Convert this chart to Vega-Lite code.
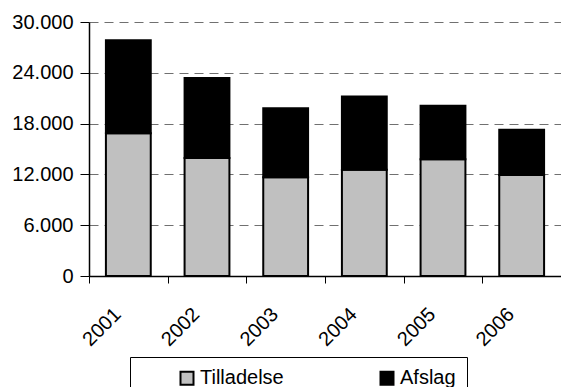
{
  "$schema": "https://vega.github.io/schema/vega-lite/v6.json",
  "width": 472,
  "height": 254,
  "autosize": {"type": "none"},
  "padding": {"left": 89, "top": 22, "right": 0, "bottom": 111},
  "background": "white",
  "data": {
    "values": [
      {"year": "2001", "type": "Tilladelse", "order": 1, "value": 16850},
      {"year": "2001", "type": "Afslag", "order": 2, "value": 10990},
      {"year": "2002", "type": "Tilladelse", "order": 1, "value": 13940},
      {"year": "2002", "type": "Afslag", "order": 2, "value": 9460},
      {"year": "2003", "type": "Tilladelse", "order": 1, "value": 11650},
      {"year": "2003", "type": "Afslag", "order": 2, "value": 8150},
      {"year": "2004", "type": "Tilladelse", "order": 1, "value": 12560},
      {"year": "2004", "type": "Afslag", "order": 2, "value": 8640},
      {"year": "2005", "type": "Tilladelse", "order": 1, "value": 13780},
      {"year": "2005", "type": "Afslag", "order": 2, "value": 6320},
      {"year": "2006", "type": "Tilladelse", "order": 1, "value": 11930},
      {"year": "2006", "type": "Afslag", "order": 2, "value": 5350}
    ]
  },
  "mark": {"type": "bar", "stroke": "#000000", "strokeWidth": 2, "width": {"band": 0.57}},
  "encoding": {
    "x": {
      "field": "year",
      "type": "ordinal",
      "scale": {"paddingInner": 0, "paddingOuter": 0},
      "axis": {
        "title": null,
        "labelAngle": -45,
        "labelBaseline": "middle",
        "labelAlign": "right",
        "labelOffset": -11,
        "tickBand": "extent",
        "tickSize": 7,
        "tickColor": "#000000",
        "domainColor": "#000000",
        "domainWidth": 1.5,
        "labelPadding": 28
      }
    },
    "y": {
      "field": "value",
      "type": "quantitative",
      "stack": "zero",
      "scale": {"domain": [0, 30000], "nice": false},
      "axis": {
        "title": null,
        "values": [0, 6000, 12000, 18000, 24000, 30000],
        "labelExpr": "replace(format(datum.value, ','), ',', '.')",
        "tickSize": 9,
        "tickColor": "#000000",
        "domainColor": "#000000",
        "domainWidth": 1.5,
        "labelPadding": 7,
        "grid": true,
        "gridColor": "#707070",
        "gridDash": [9, 6],
        "gridWidth": 1.2
      }
    },
    "color": {
      "field": "type",
      "type": "nominal",
      "scale": {"domain": ["Tilladelse", "Afslag"], "range": ["#C0C0C0", "#000000"]},
      "legend": {
        "title": null,
        "orient": "none",
        "legendX": 41,
        "legendY": 335,
        "direction": "horizontal",
        "gridAlign": "all",
        "symbolType": "square",
        "symbolSize": 169,
        "symbolStrokeColor": "#000000",
        "symbolStrokeWidth": 2,
        "labelFontSize": 20,
        "labelColor": "#000000",
        "labelFont": "Liberation Sans",
        "labelOffset": 3,
        "columnPadding": 57,
        "strokeColor": "#000000",
        "padding": 11,
        "symbolOffset": 36
      }
    },
    "order": {"field": "order", "type": "quantitative"}
  },
  "config": {
    "view": {"stroke": null},
    "axis": {
      "labelFont": "Liberation Sans",
      "labelFontSize": 20,
      "labelColor": "#000000"
    }
  }
}
